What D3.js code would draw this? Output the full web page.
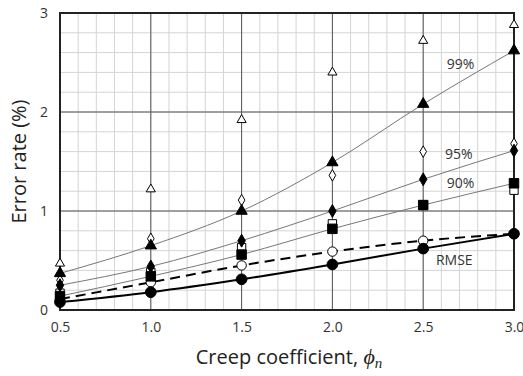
<!DOCTYPE html>
<html>
<head>
<meta charset="utf-8">
<script src="https://d3js.org/d3.v7.min.js"></script>
<style>
body { margin: 0; background: #fff; }
text { font-family: "Open Sans", "Noto Sans", sans-serif; }
</style>
</head>
<body>
<div id="chart"></div>
<script>
var phi = [0.5, 1.0, 1.5, 2.0, 2.5, 3.0];

// filled markers carry the lines, open markers stand alone
var p99fill = [0.37, 0.65, 1.00, 1.49, 2.08, 2.62];
var p99open = [0.47, 1.22, 1.92, 2.40, 2.72, 2.88];
var p95fill = [0.25, 0.44, 0.70, 1.00, 1.32, 1.61];
var p95open = [0.30, 0.72, 1.11, 1.36, 1.60, 1.68];
var p90fill = [0.14, 0.34, 0.56, 0.82, 1.06, 1.28];
var p90open = [0.17, 0.38, 0.63, 0.87, 1.06, 1.21];
var rmseFill = [0.08, 0.18, 0.31, 0.46, 0.62, 0.77];
var rmseOpen = [0.11, 0.28, 0.45, 0.59, 0.70, 0.77];

var xTicks = [0.5, 1.0, 1.5, 2.0, 2.5, 3.0];
var yTicks = [0, 1, 2, 3];

var W = 523, H = 376;
var margin = {top: 13, right: 9, bottom: 66, left: 60};

var svg = d3.select('#chart').append('svg')
	.attr('width', W)
	.attr('height', H);

var x = d3.scaleLinear().domain([0.5, 3.0]).range([margin.left, W - margin.right]);
var y = d3.scaleLinear().domain([0, 3]).range([H - margin.bottom, margin.top]);

// minor grid
svg.append('g')
	.selectAll('line.vx')
	.data(d3.range(6, 30).map(function(d) { return d / 10; }))
	.enter().append('line')
	.attr('x1', function(d) { return x(d); })
	.attr('x2', function(d) { return x(d); })
	.attr('y1', y(0)).attr('y2', y(3))
	.attr('stroke', '#d4d4d4').attr('stroke-width', 1);

svg.append('g')
	.selectAll('line')
	.data(d3.range(1, 15).map(function(d) { return d / 5; }))
	.enter().append('line')
	.attr('y1', function(d) { return y(d); })
	.attr('y2', function(d) { return y(d); })
	.attr('x1', x(0.5)).attr('x2', x(3))
	.attr('stroke', '#d4d4d4').attr('stroke-width', 1);

// major grid
svg.append('g')
	.selectAll('line')
	.data([1.0, 1.5, 2.0, 2.5])
	.enter().append('line')
	.attr('x1', function(d) { return x(d); })
	.attr('x2', function(d) { return x(d); })
	.attr('y1', y(0)).attr('y2', y(3))
	.attr('stroke', '#555').attr('stroke-width', 1);

svg.append('g')
	.selectAll('line')
	.data([1, 2])
	.enter().append('line')
	.attr('y1', function(d) { return y(d); })
	.attr('y2', function(d) { return y(d); })
	.attr('x1', x(0.5)).attr('x2', x(3))
	.attr('stroke', '#555').attr('stroke-width', 1);

svg.append('rect')
	.attr('x', x(0.5)).attr('y', y(3))
	.attr('width', x(3) - x(0.5)).attr('height', y(0) - y(3))
	.attr('fill', 'none').attr('stroke', '#222').attr('stroke-width', 2);

// axes
var xAxis = d3.axisBottom(x).tickValues(xTicks).tickFormat(d3.format('.1f')).tickSize(0).tickPadding(12);
var yAxis = d3.axisLeft(y).tickValues(yTicks).tickFormat(d3.format('d')).tickSize(0).tickPadding(12);

svg.append('g')
	.attr('transform', 'translate(0,' + y(0) + ')')
	.call(xAxis)
	.call(function(g) { g.select('.domain').remove(); })
	.selectAll('text')
	.style('font-size', '14px')
	.attr('fill', '#333');

svg.append('g')
	.attr('transform', 'translate(' + x(0.5) + ',0)')
	.call(yAxis)
	.call(function(g) { g.select('.domain').remove(); })
	.selectAll('text')
	.style('font-size', '14px')
	.attr('fill', '#333');

svg.append('text')
	.attr('transform', 'translate(19,' + ((y(0) + y(3)) / 2) + ') rotate(-90)')
	.attr('text-anchor', 'middle')
	.attr('dy', '0.35em')
	.style('font-size', '20px')
	.attr('fill', '#222')
	.text('Error rate (%)');

var xl = svg.append('text')
	.attr('x', (x(0.5) + x(3)) / 2 + 2)
	.attr('y', 364)
	.attr('text-anchor', 'middle')
	.style('font-size', '20px')
	.attr('fill', '#222');
xl.append('tspan').text('Creep coefficient, ');
xl.append('tspan')
	.style('font-family', '"Liberation Serif", serif')
	.style('font-style', 'italic')
	.style('font-size', '22px')
	.text('\u03d5');
xl.append('tspan')
	.style('font-family', '"Liberation Serif", serif')
	.style('font-style', 'italic')
	.style('font-size', '15px')
	.attr('dy', '4')
	.text('n');

// lines
function pts(vals) {
	return vals.map(function(v, i) { return [phi[i], v]; });
}

var line = d3.line()
	.x(function(d) { return x(d[0]); })
	.y(function(d) { return y(d[1]); })
	.curve(d3.curveMonotoneX);

[p99fill, p95fill, p90fill].forEach(function(s) {
	svg.append('path')
		.attr('d', line(pts(s)))
		.attr('fill', 'none')
		.attr('stroke', '#777')
		.attr('stroke-width', 1);
});

svg.append('path')
	.attr('d', line(pts(rmseOpen)))
	.attr('fill', 'none')
	.attr('stroke', '#000')
	.attr('stroke-width', 2)
	.attr('stroke-dasharray', '10,6');

svg.append('path')
	.attr('d', line(pts(rmseFill)))
	.attr('fill', 'none')
	.attr('stroke', '#000')
	.attr('stroke-width', 2);

// markers
var series = [
	{vals: p90open, shape: d3.symbolSquare, size: 70, fill: '#fff'},
	{vals: rmseOpen, shape: d3.symbolCircle, size: 70, fill: '#fff'},
	{vals: p99open, shape: d3.symbolTriangle, size: 36, fill: '#fff'},
	{vals: p95open, shape: d3.symbolDiamond, size: 38, fill: '#fff'},
	{vals: p90fill, shape: d3.symbolSquare, size: 90, fill: '#000'},
	{vals: p95fill, shape: d3.symbolDiamond, size: 48, fill: '#000'},
	{vals: p99fill, shape: d3.symbolTriangle, size: 55, fill: '#000'},
	{vals: rmseFill, shape: d3.symbolCircle, size: 90, fill: '#000'}
];

series.forEach(function(s) {
	svg.append('g')
		.selectAll('path')
		.data(pts(s.vals))
		.enter().append('path')
		.attr('transform', function(d) { return 'translate(' + x(d[0]) + ',' + y(d[1]) + ')'; })
		.attr('d', d3.symbol().type(s.shape).size(s.size))
		.attr('fill', s.fill)
		.attr('stroke', '#000')
		.attr('stroke-width', 1);
});

// series labels
var labels = [
	{t: '99%', v: 2.48, at: 2.63},
	{t: '95%', v: 1.57, at: 2.62},
	{t: '90%', v: 1.28, at: 2.63},
	{t: 'RMSE', v: 0.50, at: 2.57}
];
svg.append('g')
	.selectAll('text')
	.data(labels)
	.enter().append('text')
	.attr('x', function(d) { return x(d.at); })
	.attr('y', function(d) { return y(d.v); })
	.attr('dy', '0.35em')
	.style('font-size', '14px')
	.attr('fill', '#333')
	.text(function(d) { return d.t; });
</script>
</body>
</html>
